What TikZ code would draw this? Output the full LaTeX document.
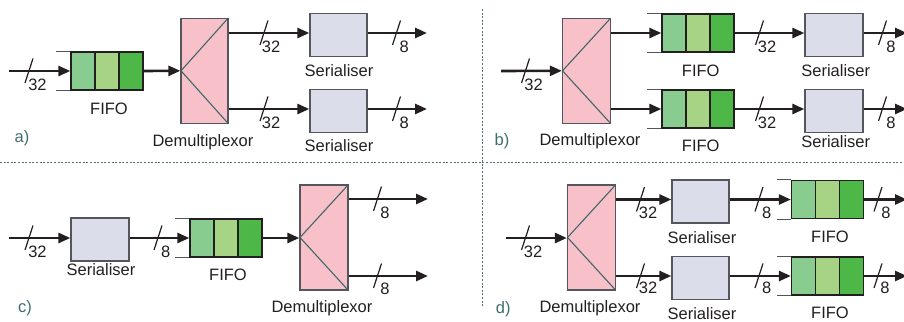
\documentclass[tikz,border=0pt]{standalone}
\usepackage{fontspec}
\setmainfont{Liberation Sans}
\usetikzlibrary{arrows.meta}
\definecolor{fA}{HTML}{88CC90}
\definecolor{fB}{HTML}{A6D384}
\definecolor{fC}{HTML}{4DB848}
\definecolor{dmxfill}{HTML}{F8C1CA}
\definecolor{dmxline}{HTML}{3F6768}
\definecolor{serfill}{HTML}{DCDDEB}
\definecolor{sergray}{HTML}{55565C}
\definecolor{pnl}{HTML}{3F6E70}
\definecolor{txt}{HTML}{231F20}
\definecolor{sep}{HTML}{4E7676}
\tikzset{
  lbl/.style={font=\fontsize{16.5}{18}\selectfont, text=txt, inner sep=0pt},
  pnllbl/.style={font=\fontsize{16.5}{18}\selectfont, text=pnl, inner sep=0pt},
  arr/.style={line width=2.6pt, draw=txt, -{Triangle[length=12pt,width=10pt]}},
  plain/.style={line width=2.6pt, draw=txt},
  slsh/.style={line width=1.2pt, draw=txt},
  ext/.style={line width=0.9pt, draw=sergray},
  sbox/.style={draw=sergray, fill=serfill, line width=1.3pt, minimum width=57pt, minimum height=43pt, inner sep=0pt},
  dmx/.style={draw=sergray, fill=dmxfill, line width=1.3pt, minimum width=48pt, minimum height=105pt, inner sep=0pt,
    path picture={\draw[dmxline, line width=1.1pt] (path picture bounding box.north east) -- (path picture bounding box.west) -- (path picture bounding box.south east);}},
  fifo/.style={draw=txt, line width=1.3pt, minimum width=72pt, minimum height=38pt, inner sep=0pt,
    path picture={
      \fill[fA] (path picture bounding box.south west) rectangle ([xshift=24pt]path picture bounding box.north west);
      \fill[fB] ([xshift=24pt]path picture bounding box.south west) rectangle ([xshift=48pt]path picture bounding box.north west);
      \fill[fC] ([xshift=48pt]path picture bounding box.south west) rectangle (path picture bounding box.north east);
      \draw[txt, line width=1.1pt] ([xshift=24pt]path picture bounding box.south west) -- ([xshift=24pt]path picture bounding box.north west)
        ([xshift=48pt]path picture bounding box.south west) -- ([xshift=48pt]path picture bounding box.north west);},
    append after command={(\tikzlastnode.north west) edge[ext] +(-14pt,0pt) (\tikzlastnode.south west) edge[ext] +(-14pt,0pt)}},
  dotsep/.style={draw=sep, line width=0.9pt, dash pattern=on 2pt off 1.6pt},
  pics/bus/.style={code={\draw[slsh] (4pt,12.5pt) -- (-4pt,-12pt);}}
}
\begin{document}
\begin{tikzpicture}[x=1pt,y=-1pt]
\useasboundingbox (0,0) rectangle (904,321);
% separators
\coordinate (hl) at (0,162);
\coordinate (hr) at (904,162);
\coordinate (vt) at (482,9);
\coordinate (vb) at (482,306);
\draw[dotsep] (hl) -- (hr);
\draw[dotsep] (vt) -- (vb);

% ---------------- panel a
\coordinate (ia) at (9,71);
\node[fifo] (fa) at (107,71) {};
\node[dmx, minimum width=47pt] (da) at (204.5,70.8) {};
\node[sbox] (sa1) at (338.5,34.8) {};
\node[sbox] (sa2) at (338.5,111.2) {};
\coordinate (oa1) at (427,33);
\coordinate (oa2) at (427,109);
\draw[arr] (ia) -- (fa.west);
\draw[arr] (fa.east) -- (da.west);
\draw[arr] (da.east |- oa1) -- (sa1.west |- oa1);
\draw[arr] (da.east |- oa2) -- (sa2.west |- oa2);
\draw[arr] (sa1.east |- oa1) -- (oa1);
\draw[arr] (sa2.east |- oa2) -- (oa2);
\pic at (29,71) {bus};
\pic at (264,33) {bus};
\pic at (264,109) {bus};
\pic at (396.5,33) {bus};
\pic at (396.5,109) {bus};
\node[lbl] (la1) at (37.5,85) {32};
\node[lbl] (la2) at (109,108.5) {FIFO};
\node[lbl] (la3) at (203,142.5) {Demultiplexor};
\node[lbl] (la4) at (271,47) {32};
\node[lbl] (la5) at (271,123) {32};
\node[lbl] (la6) at (339,70.5) {Serialiser};
\node[lbl] (la7) at (339,146) {Serialiser};
\node[lbl] (la8) at (404.3,46.5) {8};
\node[lbl] (la9) at (404.3,122.5) {8};
\node[pnllbl] (pa) at (22,138) {a)};

% ---------------- panel b
\coordinate (ib) at (501,71);
\node[dmx] (db) at (586.5,70.8) {};
\node[fifo] (fb1) at (698,33) {};
\node[fifo] (fb2) at (698,109) {};
\node[sbox, minimum width=58pt] (sb1) at (834,34.8) {};
\node[sbox, minimum width=58pt] (sb2) at (834,111.2) {};
\coordinate (ob1) at (907,33);
\coordinate (ob2) at (907,109);
\draw[arr] (ib) -- (db.west);
\draw[arr] (db.east |- fb1) -- (fb1.west);
\draw[arr] (db.east |- fb2) -- (fb2.west);
\draw[arr] (fb1.east) -- (sb1.west |- fb1);
\draw[arr] (fb2.east) -- (sb2.west |- fb2);
\draw[arr] (sb1.east |- ob1) -- (ob1);
\draw[arr] (sb2.east |- ob2) -- (ob2);
\pic at (525.5,71) {bus};
\pic at (759.5,33) {bus};
\pic at (759.5,109) {bus};
\pic at (882.5,33) {bus};
\pic at (882.5,109) {bus};
\node[lbl] (lb1) at (533.5,85) {32};
\node[lbl] (lb2) at (700.7,70.7) {FIFO};
\node[lbl] (lb3) at (700.7,145.7) {FIFO};
\node[lbl] (lb4) at (767,47) {32};
\node[lbl] (lb5) at (767,123) {32};
\node[lbl] (lb6) at (835.7,70.7) {Serialiser};
\node[lbl] (lb7) at (835.7,141.7) {Serialiser};
\node[lbl] (lb8) at (891,47) {8};
\node[lbl] (lb9) at (891,123) {8};
\node[lbl] (lb10) at (590,141.7) {Demultiplexor};
\node[pnllbl] (pb) at (502,141.7) {b)};

% ---------------- panel c
\coordinate (ic) at (9,238);
\node[sbox, minimum width=58pt] (sc) at (100,239.5) {};
\node[fifo] (fc) at (226,238) {};
\node[dmx] (dc) at (324,237.5) {};
\coordinate (oc1) at (428,199);
\coordinate (oc2) at (428,276);
\draw[arr] (ic) -- (sc.west |- ic);
\draw[arr] (sc.east |- fc) -- (fc.west);
\draw[arr] (fc.east) -- (dc.west |- fc);
\draw[arr] (dc.east |- oc1) -- (oc1);
\draw[arr] (dc.east |- oc2) -- (oc2);
\pic at (29,238) {bus};
\pic at (158,238) {bus};
\pic at (377.5,199) {bus};
\pic at (377.5,276) {bus};
\node[lbl] (lc1) at (37.5,252) {32};
\node[lbl] (lc2) at (101,270) {Serialiser};
\node[lbl] (lc3) at (165.7,251.7) {8};
\node[lbl] (lc4) at (228,275) {FIFO};
\node[lbl] (lc5) at (385,213.3) {8};
\node[lbl] (lc6) at (385,288.5) {8};
\node[lbl] (lc7) at (322,308) {Demultiplexor};
\node[pnllbl] (pc) at (25,308.5) {c)};

% ---------------- panel d
\coordinate (id) at (506,238);
\node[dmx] (dd) at (591.5,237.5) {};
\node[sbox] (sd1) at (700.5,201.5) {};
\node[sbox] (sd2) at (700.5,278) {};
\node[fifo] (fd1) at (827.5,199.5) {};
\node[fifo] (fd2) at (827.5,276) {};
\coordinate (od1) at (907,199.5);
\coordinate (od2) at (907,276);
\draw[arr] (id) -- (dd.west |- id);
\draw[arr] (dd.east |- fd1) -- (sd1.west |- fd1);
\draw[arr] (dd.east |- fd2) -- (sd2.west |- fd2);
\draw[arr] (sd1.east |- fd1) -- (fd1.west);
\draw[arr] (sd2.east |- fd2) -- (fd2.west);
\draw[arr] (fd1.east) -- (od1);
\draw[arr] (fd2.east) -- (od2);
\pic at (525.5,238) {bus};
\pic at (640.5,199.5) {bus};
\pic at (640.5,276) {bus};
\pic at (759,199.5) {bus};
\pic at (759,276) {bus};
\pic at (878,199.5) {bus};
\pic at (878,276) {bus};
\node[lbl] (ld1) at (533,252) {32};
\node[lbl] (ld2) at (648,213.3) {32};
\node[lbl] (ld3) at (648,288.3) {32};
\node[lbl] (ld4) at (766.7,213.3) {8};
\node[lbl] (ld5) at (766.7,288.3) {8};
\node[lbl] (ld6) at (886,213.3) {8};
\node[lbl] (ld7) at (885,288.3) {8};
\node[lbl] (ld8) at (702,237.3) {Serialiser};
\node[lbl] (ld9) at (702,313.3) {Serialiser};
\node[lbl] (ld10) at (830,237.3) {FIFO};
\node[lbl] (ld11) at (830,313.3) {FIFO};
\node[lbl] (ld12) at (590,308.3) {Demultiplexor};
\node[pnllbl] (pd) at (503.3,309.5) {d)};
\end{tikzpicture}
\end{document}
